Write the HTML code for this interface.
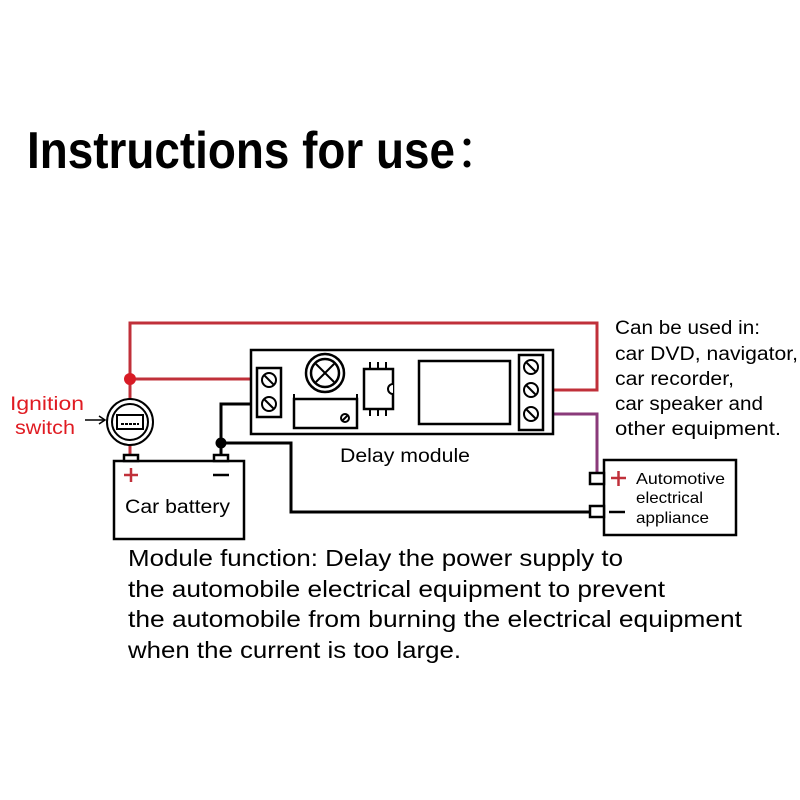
<!DOCTYPE html>
<html><head><meta charset="utf-8"><style>html,body{margin:0;padding:0;background:#fff}svg{display:block}</style></head>
<body>
<svg width="800" height="800" viewBox="0 0 800 800" xmlns="http://www.w3.org/2000/svg" font-family="Liberation Sans, sans-serif">
<rect width="800" height="800" fill="#fff"/>
<text x="27" y="168" font-size="52" font-weight="bold" textLength="428" lengthAdjust="spacingAndGlyphs">Instructions for use</text>
<circle cx="467" cy="142" r="3.5" fill="#000"/>
<circle cx="467" cy="164" r="3.5" fill="#000"/>

<!-- red wires -->
<g stroke="#c0303a" stroke-width="3" fill="none">
<polyline points="130,401 130,323 597,323 597,390 545,390"/>
<line x1="130" y1="379" x2="258" y2="379"/>
<line x1="130" y1="445" x2="130" y2="456"/>
</g>
<circle cx="130" cy="379" r="6" fill="#d81b25"/>
<!-- purple wire -->
<polyline points="545,414 597,414 597,478" stroke="#8a3a7a" stroke-width="3" fill="none"/>
<!-- black wires -->
<g stroke="#000" stroke-width="3" fill="none">
<polyline points="258,404 221,404 221,456"/>
<polyline points="221,443 291,443 291,512 592,512"/>
</g>
<circle cx="221" cy="443" r="5.5" fill="#000"/>

<!-- module -->
<g stroke="#000" stroke-width="2.5" fill="#fff">
<rect x="251" y="350" width="302" height="84"/>
<rect x="257" y="368" width="24" height="49"/>
<rect x="519" y="355" width="24" height="75"/>
<rect x="419" y="361" width="91" height="63"/>
<circle cx="325" cy="373" r="19"/>
<circle cx="325" cy="373" r="14"/>
<rect x="294" y="399" width="63" height="29"/>
<rect x="364" y="369" width="29" height="40"/>
</g>
<g stroke="#000" stroke-width="2" fill="#fff">
<circle cx="269" cy="380" r="7"/><circle cx="269" cy="404" r="7"/>
<circle cx="531" cy="367" r="7"/><circle cx="531" cy="390" r="7"/><circle cx="531" cy="414" r="7"/>
<circle cx="345" cy="418" r="4"/>
<path d="M393,384 a5,5 0 0 0 0,10"/>
</g>
<g stroke="#000" stroke-width="2">
<line x1="264" y1="375" x2="274" y2="385"/><line x1="264" y1="399" x2="274" y2="409"/>
<line x1="526" y1="362" x2="536" y2="372"/><line x1="526" y1="385" x2="536" y2="395"/><line x1="526" y1="409" x2="536" y2="419"/>
<line x1="316" y1="364" x2="334" y2="382"/><line x1="334" y1="364" x2="316" y2="382"/>
<line x1="342" y1="421" x2="348" y2="415"/>
<line x1="370" y1="362" x2="370" y2="369"/><line x1="378" y1="362" x2="378" y2="369"/><line x1="386" y1="362" x2="386" y2="369"/>
<line x1="370" y1="409" x2="370" y2="416"/><line x1="378" y1="409" x2="378" y2="416"/><line x1="386" y1="409" x2="386" y2="416"/>
<line x1="294" y1="399" x2="294" y2="394"/><line x1="357" y1="399" x2="357" y2="394"/>
</g>
<text x="340" y="462" font-size="19" textLength="130" lengthAdjust="spacingAndGlyphs">Delay module</text>

<!-- ignition switch -->
<g stroke="#000" stroke-width="2" fill="#fff">
<circle cx="130" cy="422" r="23"/><circle cx="130" cy="422" r="18"/>
<rect x="117" y="415" width="26" height="14"/>
</g>
<line x1="121" y1="424" x2="139" y2="424" stroke="#000" stroke-width="2" stroke-dasharray="3,1"/>
<line x1="85" y1="420" x2="104" y2="420" stroke="#000" stroke-width="1.5"/>
<path d="M99,416 L105,420 L99,424" stroke="#000" stroke-width="1.5" fill="none"/>
<text x="10" y="410" font-size="19" fill="#e01b22" textLength="74" lengthAdjust="spacingAndGlyphs">Ignition</text>
<text x="15" y="434" font-size="19" fill="#e01b22" textLength="60" lengthAdjust="spacingAndGlyphs">switch</text>

<!-- battery -->
<g stroke="#000" stroke-width="2.5" fill="#fff">
<rect x="114" y="461" width="130" height="78"/>
<rect x="124" y="455" width="14" height="6"/>
<rect x="214" y="455" width="14" height="6"/>
</g>
<g stroke="#c0303a" stroke-width="2.5"><line x1="124" y1="475" x2="138" y2="475"/><line x1="131" y1="468" x2="131" y2="482"/></g>
<line x1="213" y1="475" x2="229" y2="475" stroke="#000" stroke-width="2.5"/>
<text x="125" y="513" font-size="19" textLength="105" lengthAdjust="spacingAndGlyphs">Car battery</text>

<!-- appliance -->
<g stroke="#000" stroke-width="2.5" fill="#fff">
<rect x="604" y="460" width="132" height="75"/>
<rect x="590" y="473" width="14" height="11"/>
<rect x="590" y="506" width="14" height="11"/>
</g>
<g stroke="#c0303a" stroke-width="2.5"><line x1="611" y1="478" x2="626" y2="478"/><line x1="618.5" y1="471" x2="618.5" y2="486"/></g>
<line x1="609" y1="512" x2="625" y2="512" stroke="#000" stroke-width="2.5"/>
<text x="636" y="484" font-size="16" textLength="89" lengthAdjust="spacingAndGlyphs">Automotive</text>
<text x="636" y="503" font-size="16" textLength="67" lengthAdjust="spacingAndGlyphs">electrical</text>
<text x="636" y="523" font-size="16" textLength="73" lengthAdjust="spacingAndGlyphs">appliance</text>

<!-- right text -->
<g font-size="19">
<text x="615" y="334" textLength="145" lengthAdjust="spacingAndGlyphs">Can be used in:</text>
<text x="615" y="360" textLength="183" lengthAdjust="spacingAndGlyphs">car DVD, navigator,</text>
<text x="615" y="385" textLength="119" lengthAdjust="spacingAndGlyphs">car recorder,</text>
<text x="615" y="410" textLength="148" lengthAdjust="spacingAndGlyphs">car speaker and</text>
<text x="615" y="435" textLength="166" lengthAdjust="spacingAndGlyphs">other equipment.</text>
</g>

<!-- bottom text -->
<g font-size="23">
<text x="128" y="566" textLength="495" lengthAdjust="spacingAndGlyphs">Module function: Delay the power supply to</text>
<text x="128" y="597" textLength="537" lengthAdjust="spacingAndGlyphs">the automobile electrical equipment to prevent</text>
<text x="128" y="627" textLength="614" lengthAdjust="spacingAndGlyphs">the automobile from burning the electrical equipment</text>
<text x="128" y="658" textLength="333" lengthAdjust="spacingAndGlyphs">when the current is too large.</text>
</g>
</svg>
</body></html>
